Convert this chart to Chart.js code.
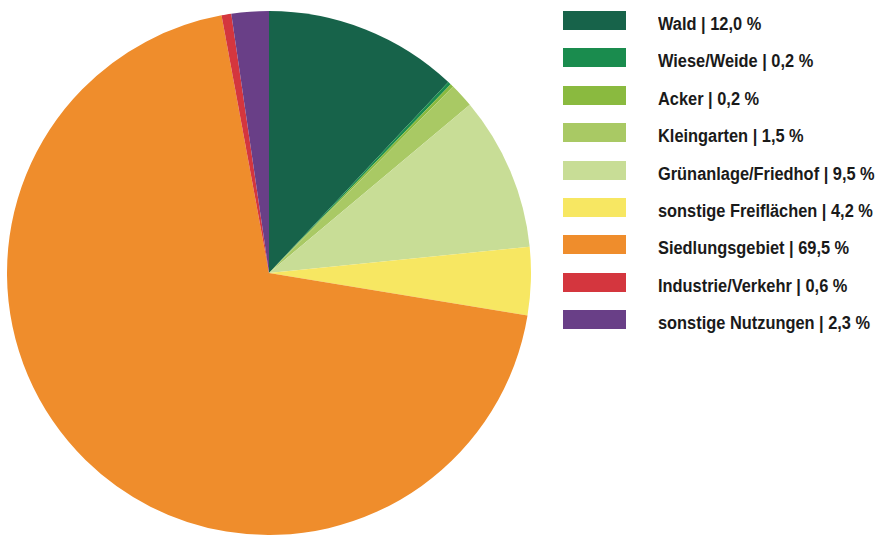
<!DOCTYPE html>
<html lang="de">
<head>
<meta charset="utf-8">
<script src="https://cdn.jsdelivr.net/npm/chart.js@4/dist/chart.umd.min.js"></script>
<style>
  html, body { margin: 0; padding: 0; background: #fff; }
  #wrap { position: relative; width: 878px; height: 536px; overflow: hidden; }
  #pieBox { position: absolute; left: 7px; top: 11px; width: 524px; height: 524px; }
  #legend { position: absolute; left: 563px; top: 11px; }
  .row { position: absolute; left: 0; height: 19px; white-space: nowrap; }
  .sw { position: absolute; left: 0; top: 0; width: 63px; height: 19px; }
  .lbl { position: absolute; left: 95px; top: 2px; font: bold 18px "Liberation Sans Narrow", "Liberation Sans", sans-serif;
         color: #1a1a1a; line-height: 22px; transform: scaleX(0.91); transform-origin: 0 50%; }
</style>
</head>
<body>
<div id="wrap">
  <div id="pieBox"><canvas id="pie"></canvas></div>
  <div id="legend"></div>
</div>
<script>
const labels = ['Wald', 'Wiese/Weide', 'Acker', 'Kleingarten', 'Grünanlage/Friedhof',
                'sonstige Freiflächen', 'Siedlungsgebiet', 'Industrie/Verkehr', 'sonstige Nutzungen'];
const shares = [12.0, 0.2, 0.2, 1.5, 9.5, 4.2, 69.5, 0.6, 2.3];
const colors = ['#17634a', '#1a8c4e', '#8aba3f', '#a9c964', '#c8dd96',
                '#f7e762', '#ef8d2c', '#d4363e', '#693f87'];

const fmt = v => v.toFixed(1).replace('.', ',');

// legend on the right
const legend = document.getElementById('legend');
labels.forEach((name, i) => {
    const row = document.createElement('div');
    row.className = 'row';
    row.style.top = (i * 37.4) + 'px';
    row.innerHTML = '<div class="sw" style="background:' + colors[i] + '"></div>' +
                    '<div class="lbl">' + name + ' | ' + fmt(shares[i]) + ' %</div>';
    legend.appendChild(row);
});

new Chart(document.getElementById('pie'), {
    type: 'pie',
    data: {
        labels,
        datasets: [{ data: shares, backgroundColor: colors, borderWidth: 0 }]
    },
    options: {
        responsive: true,
        maintainAspectRatio: false,
        animation: false,
        layout: { padding: 0 },
        plugins: { legend: { display: false }, tooltip: { enabled: false } }
    }
});
</script>
</body>
</html>
